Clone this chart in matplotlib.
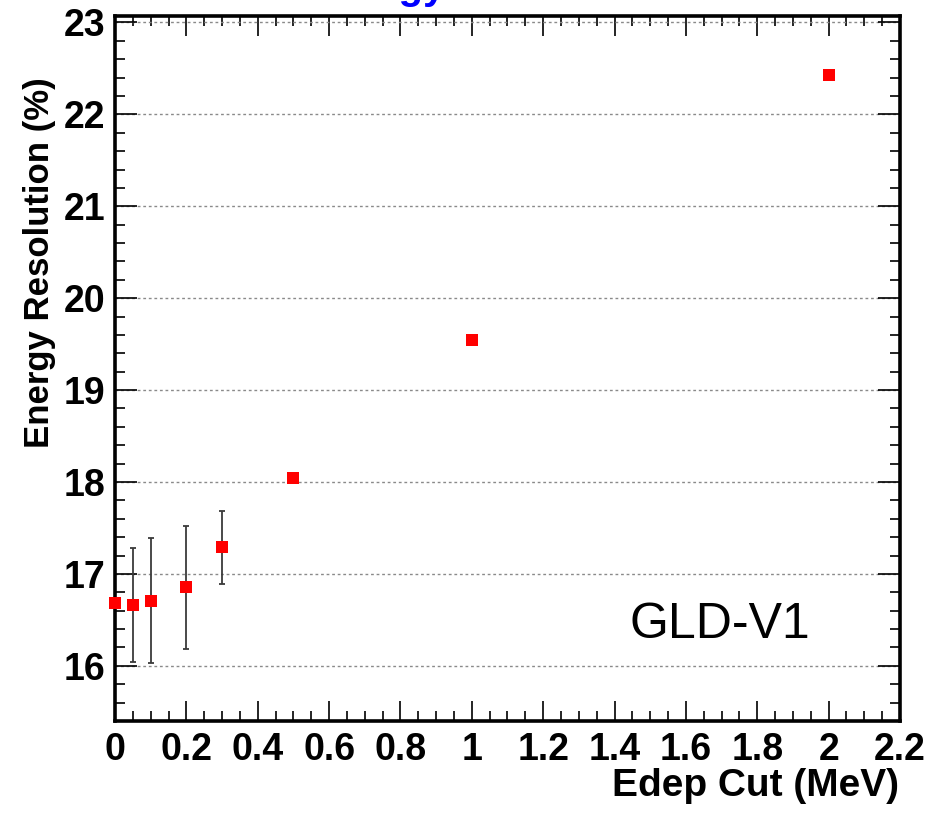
import matplotlib
matplotlib.use("Agg")
import matplotlib.pyplot as plt
from matplotlib.ticker import MultipleLocator, FormatStrFormatter, FixedLocator
import numpy as np

# ---- data ----
edep_cut = [0.0, 0.05, 0.1, 0.2, 0.3, 0.5, 1.0, 2.0]
resolution = [16.68, 16.66, 16.71, 16.855, 17.29, 18.04, 19.54, 22.43]
res_err = [0.0, 0.62, 0.68, 0.67, 0.40, 0.0, 0.0, 0.0]
y_major = [16, 17, 18, 19, 20, 21, 22, 23]
x_major = [0, 0.2, 0.4, 0.6, 0.8, 1.0, 1.2, 1.4, 1.6, 1.8, 2.0, 2.2]

plt.rcParams['font.family'] = ['Liberation Sans', 'DejaVu Sans']

W, H = 933, 813
fig = plt.figure(figsize=(W / 100, H / 100), dpi=100)
L, R, T, B = 115, 900, 16, 721
ax = fig.add_axes([L / W, 1 - B / H, (R - L) / W, (B - T) / H])

ax.set_xlim(0, 2.2)
ax.set_ylim(15.4, 23.07)

# grid (horizontal dotted)
ax.yaxis.set_major_locator(FixedLocator(y_major))
ax.yaxis.set_minor_locator(MultipleLocator(0.2))
ax.xaxis.set_major_locator(FixedLocator(x_major))
ax.xaxis.set_minor_locator(MultipleLocator(0.05))
ax.yaxis.grid(True, which='major', color='#8a8a8a', linestyle=(0, (2, 2)), linewidth=1.0)
ax.set_axisbelow(True)

# error bars
eb = ax.errorbar(edep_cut, resolution, yerr=res_err, fmt='none', ecolor='#3a3a3a',
                 elinewidth=1.3, capsize=2.5, capthick=1.3, zorder=3)
for art in eb.get_children():
    art.set_clip_on(False)
ax.plot(edep_cut, resolution, linestyle='none', marker='s', markersize=8.5,
        color='#ff0000', markeredgewidth=0, zorder=4, clip_on=False)

# spines and ticks
for s in ax.spines.values():
    s.set_linewidth(2.6)
    s.set_color('black')
    s.set_zorder(2.5)
ax.tick_params(axis='both', which='both', direction='in', top=True, right=True,
               color='black')
ax.tick_params(axis='y', which='major', length=16, width=1.2, pad=7)
ax.tick_params(axis='y', which='minor', length=7, width=1.2)
ax.tick_params(axis='x', which='major', length=14.5, width=1.2, pad=8)
ax.tick_params(axis='x', which='minor', length=7, width=1.2)

ax.xaxis.set_major_formatter(FormatStrFormatter('%g'))
ax.yaxis.set_major_formatter(FormatStrFormatter('%g'))
for lab in ax.get_xticklabels() + ax.get_yticklabels():
    lab.set_fontsize(27)
    lab.set_fontweight('bold')

# axis titles
fig.text(755 / W, 1 - 786 / H, 'Edep Cut (MeV)', fontsize=28, fontweight='bold',
         ha='center', va='center')
fig.text(40 / W, 1 - 263 / H, 'Energy Resolution (%)', fontsize=25, fontweight='bold',
         ha='center', va='center', rotation=90)

# label inside plot
ax.text(629 / W, 1 - 638 / H, 'GLD-V1', fontsize=36, ha='left', va='baseline',
        transform=fig.transFigure)

# partially visible blue title at the very top (cut off in the reference too)
fig.text(309 / W, 1 + 1 / H, 'Energy Resolution', fontsize=29, fontweight='bold',
         color='#0000ff', ha='left', va='baseline')

fig.savefig('out.png', dpi=100)
